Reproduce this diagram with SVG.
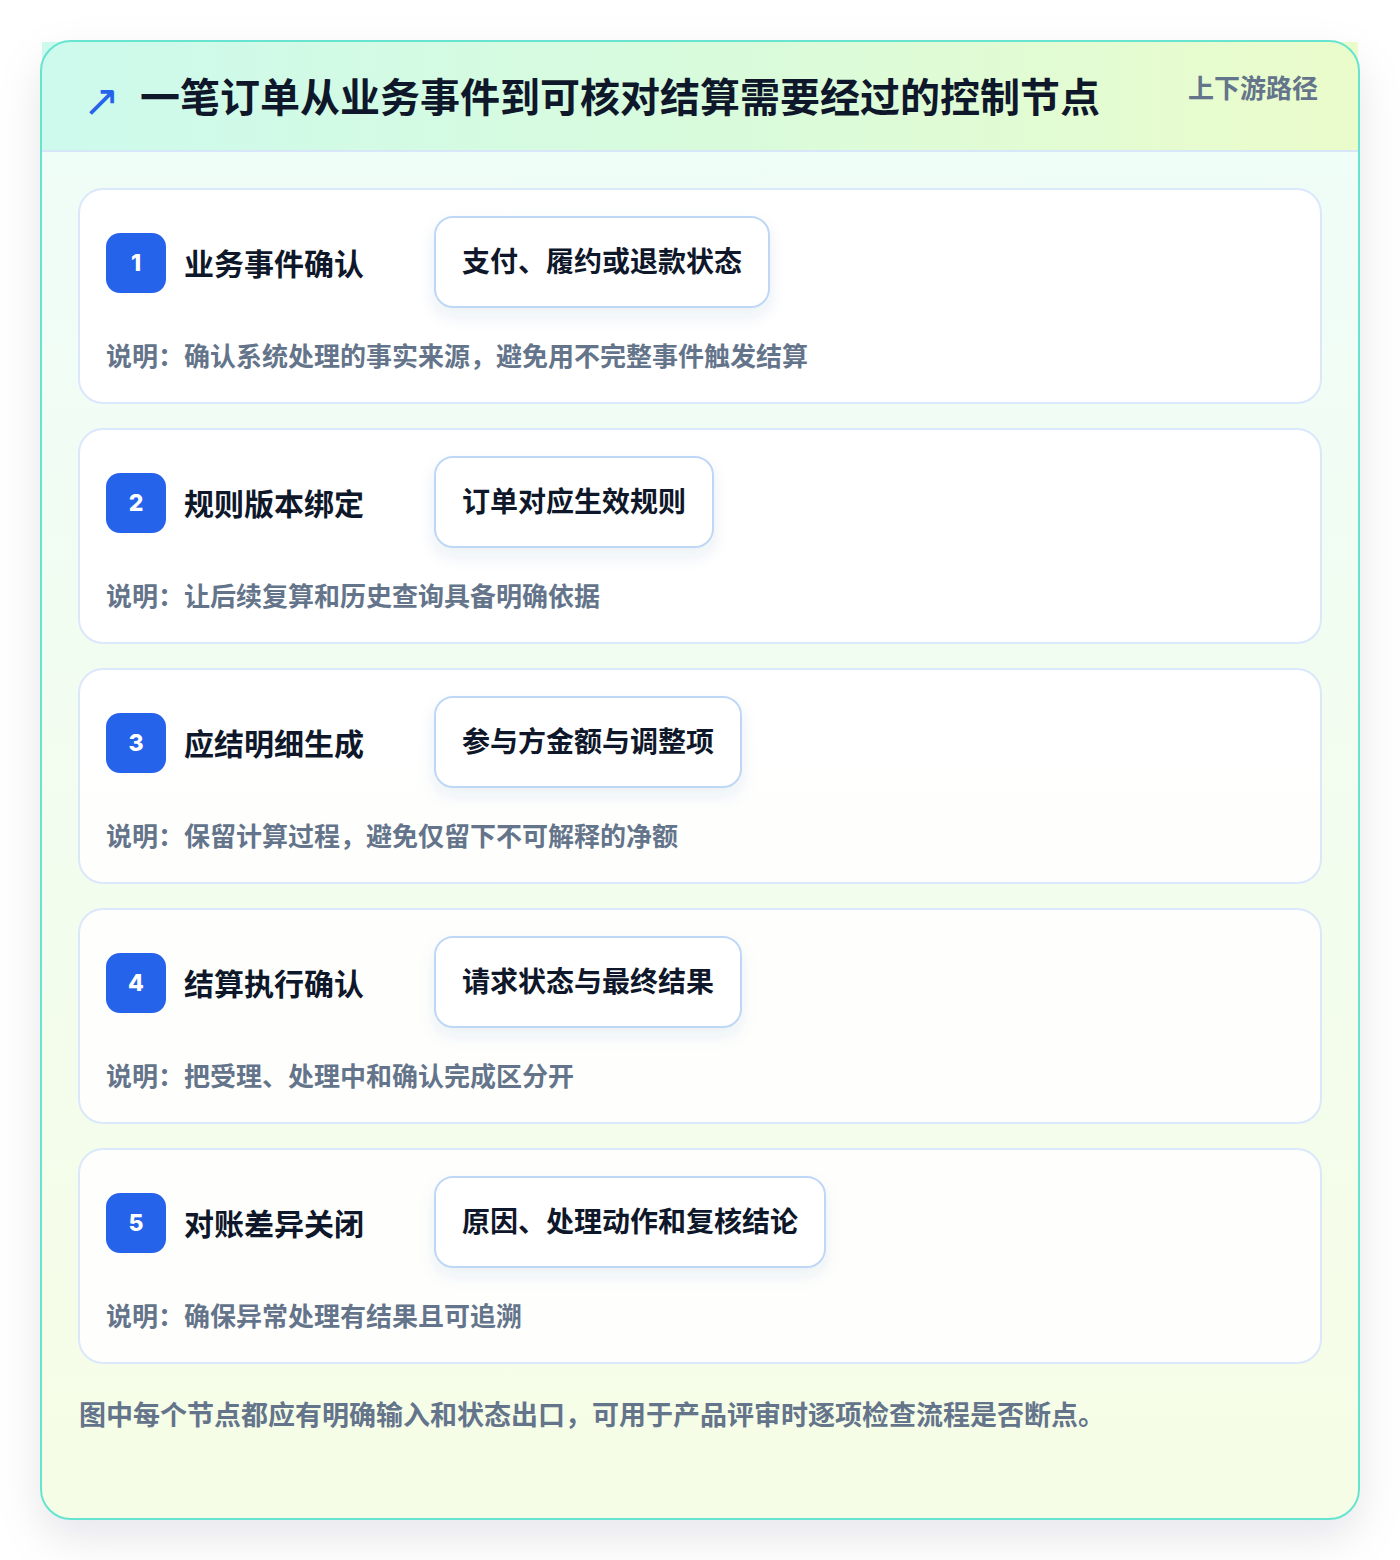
<svg xmlns="http://www.w3.org/2000/svg" width="1400" height="1560" viewBox="0 0 1400 1560">
<defs>
<linearGradient id="bodyGrad" x1="0" y1="0" x2="0" y2="1">
<stop offset="0" stop-color="#effdf9"/>
<stop offset="1" stop-color="#f6fde6"/>
</linearGradient>
<linearGradient id="headGrad" x1="0" y1="0" x2="1" y2="0">
<stop offset="0" stop-color="#cdfaed"/>
<stop offset="0.5" stop-color="#d8fbdc"/>
<stop offset="1" stop-color="#ebfccb"/>
</linearGradient>
<filter id="outerShadow" x="-10%" y="-10%" width="120%" height="125%">
<feDropShadow dx="0" dy="18" stdDeviation="22" flood-color="#0f172a" flood-opacity="0.10"/>
</filter>
<filter id="pillShadow" x="-20%" y="-30%" width="140%" height="180%">
<feDropShadow dx="0" dy="8" stdDeviation="8" flood-color="#1e3a8a" flood-opacity="0.08"/>
</filter>
</defs>
<style>
text { font-family: "Noto Sans CJK SC", "Noto Sans", sans-serif; font-weight: 700; }
.card { fill: #ffffff; fill-opacity: 0.88; stroke: #dbe7fb; stroke-width: 2; }
.badge { fill: #2563eb; }
.num { fill: #ffffff; font-size: 23px; font-weight: 800; font-family: "Inter", "Noto Sans CJK SC", sans-serif; text-anchor: middle; }
.title { fill: #0f172a; font-size: 30px; }
.pill { fill: #ffffff; stroke: #bfd7f6; stroke-width: 2; }
.pilltext { fill: #0f172a; font-size: 28px; }
.desc { fill: #64748b; font-size: 26px; }
</style>
<rect x="0" y="0" width="1400" height="1560" fill="#ffffff"/>
<g id="frame">
<rect x="41" y="41" width="1318" height="1478" rx="30" fill="url(#bodyGrad)" filter="url(#outerShadow)"/>
<rect x="42" y="42" width="1316" height="109" fill="url(#headGrad)"/>
<line x1="42" y1="151" x2="1358" y2="151" stroke="#d8e6fa" stroke-width="2"/>
<rect x="41" y="41" width="1318" height="1478" rx="30" fill="none" stroke="#66e4cf" stroke-width="2"/>
</g>
<g id="header">
<text x="83" y="116" font-size="44" fill="#2563eb" style="font-family:'DejaVu Sans',sans-serif;font-weight:400">↗</text>
<text x="140" y="112" font-size="40" fill="#0f172a">一笔订单从业务事件到可核对结算需要经过的控制节点</text>
<text x="1318" y="98" font-size="26" fill="#64748b" text-anchor="end">上下游路径</text>
</g>
<g id="connectors"></g>
<g id="node1">
<rect class="card" x="79" y="189" width="1242" height="214" rx="24"/>
<rect class="badge" x="106" y="233" width="60" height="60" rx="14"/>
<text class="num" x="136" y="271">1</text>
<text class="title" x="184" y="275">业务事件确认</text>
<rect class="pill" x="435" y="217" width="334" height="90" rx="18" filter="url(#pillShadow)"/>
<text class="pilltext" x="462" y="272">支付、履约或退款状态</text>
<text class="desc" x="106" y="366">说明：确认系统处理的事实来源，避免用不完整事件触发结算</text>
</g>
<g id="node2">
<rect class="card" x="79" y="429" width="1242" height="214" rx="24"/>
<rect class="badge" x="106" y="473" width="60" height="60" rx="14"/>
<text class="num" x="136" y="511">2</text>
<text class="title" x="184" y="515">规则版本绑定</text>
<rect class="pill" x="435" y="457" width="278" height="90" rx="18" filter="url(#pillShadow)"/>
<text class="pilltext" x="462" y="512">订单对应生效规则</text>
<text class="desc" x="106" y="606">说明：让后续复算和历史查询具备明确依据</text>
</g>
<g id="node3">
<rect class="card" x="79" y="669" width="1242" height="214" rx="24"/>
<rect class="badge" x="106" y="713" width="60" height="60" rx="14"/>
<text class="num" x="136" y="751">3</text>
<text class="title" x="184" y="755">应结明细生成</text>
<rect class="pill" x="435" y="697" width="306" height="90" rx="18" filter="url(#pillShadow)"/>
<text class="pilltext" x="462" y="752">参与方金额与调整项</text>
<text class="desc" x="106" y="846">说明：保留计算过程，避免仅留下不可解释的净额</text>
</g>
<g id="node4">
<rect class="card" x="79" y="909" width="1242" height="214" rx="24"/>
<rect class="badge" x="106" y="953" width="60" height="60" rx="14"/>
<text class="num" x="136" y="991">4</text>
<text class="title" x="184" y="995">结算执行确认</text>
<rect class="pill" x="435" y="937" width="306" height="90" rx="18" filter="url(#pillShadow)"/>
<text class="pilltext" x="462" y="992">请求状态与最终结果</text>
<text class="desc" x="106" y="1086">说明：把受理、处理中和确认完成区分开</text>
</g>
<g id="node5">
<rect class="card" x="79" y="1149" width="1242" height="214" rx="24"/>
<rect class="badge" x="106" y="1193" width="60" height="60" rx="14"/>
<text class="num" x="136" y="1231">5</text>
<text class="title" x="184" y="1235">对账差异关闭</text>
<rect class="pill" x="435" y="1177" width="390" height="90" rx="18" filter="url(#pillShadow)"/>
<text class="pilltext" x="462" y="1232">原因、处理动作和复核结论</text>
<text class="desc" x="106" y="1326">说明：确保异常处理有结果且可追溯</text>
</g>
<g id="footer">
<text x="79" y="1425" font-size="27" fill="#64748b">图中每个节点都应有明确输入和状态出口，可用于产品评审时逐项检查流程是否断点。</text>
</g>
</svg>
